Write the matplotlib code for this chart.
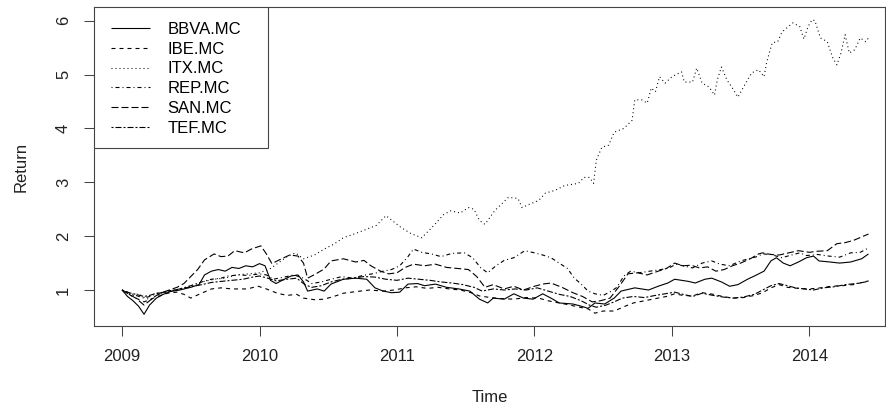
import matplotlib
matplotlib.use("Agg")
import matplotlib.pyplot as plt
from matplotlib.patches import Rectangle

plt.rcParams['font.family'] = ['Liberation Sans', 'DejaVu Sans']
plt.rcParams['lines.scale_dashes'] = False

# ---------------- data ----------------
bbva_t = [2009.00, 2009.04, 2009.08, 2009.12, 2009.16, 2009.20, 2009.25, 2009.30, 2009.35, 2009.42,
          2009.50, 2009.56, 2009.60, 2009.65, 2009.70, 2009.75, 2009.80, 2009.85, 2009.90, 2009.95,
          2010.00, 2010.04, 2010.08, 2010.12, 2010.18, 2010.23, 2010.28, 2010.32, 2010.35, 2010.42,
          2010.47, 2010.52, 2010.61, 2010.70, 2010.78, 2010.84, 2010.90, 2010.96, 2011.02, 2011.08,
          2011.15, 2011.20, 2011.28, 2011.36, 2011.45, 2011.53, 2011.60, 2011.66, 2011.70, 2011.78,
          2011.85, 2011.92, 2011.99, 2012.06, 2012.12, 2012.18, 2012.28, 2012.34, 2012.39, 2012.44,
          2012.51, 2012.58, 2012.63, 2012.73, 2012.83, 2012.90, 2012.97, 2013.02, 2013.07, 2013.12,
          2013.17, 2013.24, 2013.29, 2013.36, 2013.42, 2013.48, 2013.55, 2013.60, 2013.67, 2013.72,
          2013.76, 2013.81, 2013.86, 2013.92, 2013.98, 2014.03, 2014.07, 2014.15, 2014.22, 2014.30,
          2014.38, 2014.43]
bbva_v = [1.00, 0.88, 0.80, 0.70, 0.55, 0.72, 0.85, 0.92, 0.97, 1.00,
          1.05, 1.10, 1.28, 1.35, 1.38, 1.35, 1.42, 1.40, 1.45, 1.43,
          1.49, 1.45, 1.18, 1.12, 1.20, 1.26, 1.28, 1.15, 0.98, 1.02,
          0.98, 1.11, 1.20, 1.22, 1.20, 1.04, 0.98, 0.95, 0.96, 1.11,
          1.12, 1.08, 1.11, 1.05, 1.02, 0.98, 0.83, 0.76, 0.85, 0.83,
          0.93, 0.85, 0.83, 0.93, 0.85, 0.76, 0.74, 0.70, 0.66, 0.76,
          0.74, 0.85, 0.98, 1.04, 1.00, 1.07, 1.13, 1.20, 1.18, 1.16,
          1.13, 1.20, 1.22, 1.15, 1.07, 1.10, 1.20, 1.26, 1.35, 1.54,
          1.60, 1.50, 1.45, 1.52, 1.60, 1.63, 1.54, 1.52, 1.50, 1.52,
          1.58, 1.67]

ibe_t = [2009.00, 2009.05, 2009.10, 2009.16, 2009.20, 2009.26, 2009.33, 2009.40, 2009.45, 2009.50,
         2009.56, 2009.65, 2009.72, 2009.80, 2009.91, 2009.99, 2010.05, 2010.13, 2010.20, 2010.27,
         2010.32, 2010.40, 2010.47, 2010.54, 2010.61, 2010.70, 2010.80, 2010.90, 2010.98, 2011.06,
         2011.14, 2011.22, 2011.30, 2011.38, 2011.46, 2011.54, 2011.60, 2011.68, 2011.76, 2011.85,
         2011.94, 2012.03, 2012.10, 2012.18, 2012.26, 2012.33, 2012.39, 2012.44, 2012.50, 2012.58,
         2012.66, 2012.72, 2012.80, 2012.88, 2012.96, 2013.02, 2013.08, 2013.15, 2013.22, 2013.30,
         2013.37, 2013.44, 2013.52, 2013.60, 2013.66, 2013.72, 2013.78, 2013.84, 2013.92, 2014.00,
         2014.08, 2014.16, 2014.24, 2014.32, 2014.43]
ibe_v = [1.00, 0.92, 0.85, 0.78, 0.82, 0.88, 0.94, 0.96, 0.92, 0.85,
         0.92, 1.02, 1.04, 1.02, 1.02, 1.07, 1.02, 0.94, 0.90, 0.92,
         0.85, 0.82, 0.83, 0.88, 0.94, 0.97, 1.00, 0.98, 1.00, 1.04,
         1.06, 1.03, 1.05, 1.02, 1.00, 0.95, 0.89, 0.86, 0.84, 0.83,
         0.86, 0.85, 0.80, 0.76, 0.72, 0.68, 0.65, 0.57, 0.61, 0.61,
         0.70, 0.76, 0.80, 0.84, 0.88, 0.93, 0.90, 0.89, 0.95, 0.92,
         0.88, 0.85, 0.86, 0.90, 0.95, 1.04, 1.10, 1.05, 1.03, 1.02,
         1.04, 1.07, 1.08, 1.10, 1.17]

itx_t = [2009.00, 2009.04, 2009.08, 2009.12, 2009.17, 2009.21, 2009.25, 2009.33, 2009.42, 2009.50,
         2009.58, 2009.67, 2009.75, 2009.83, 2009.92, 2010.00, 2010.08, 2010.13, 2010.20, 2010.26,
         2010.32, 2010.40, 2010.47, 2010.54, 2010.61, 2010.70, 2010.79, 2010.85, 2010.92, 2010.96,
         2011.03, 2011.10, 2011.18, 2011.25, 2011.34, 2011.39, 2011.46, 2011.52, 2011.56, 2011.60,
         2011.64, 2011.71, 2011.81, 2011.88, 2011.91, 2011.97, 2012.03, 2012.08, 2012.15, 2012.22,
         2012.32, 2012.36, 2012.40, 2012.43, 2012.45, 2012.49, 2012.54, 2012.58, 2012.65, 2012.71,
         2012.73, 2012.78, 2012.82, 2012.85, 2012.88, 2012.91, 2012.95, 2013.00, 2013.07, 2013.09,
         2013.15, 2013.18, 2013.22, 2013.27, 2013.31, 2013.33, 2013.36, 2013.40, 2013.44, 2013.48,
         2013.53, 2013.58, 2013.63, 2013.67, 2013.69, 2013.73, 2013.77, 2013.80, 2013.88, 2013.93,
         2013.96, 2013.99, 2014.02, 2014.04, 2014.08, 2014.13, 2014.17, 2014.20, 2014.23, 2014.26,
         2014.29, 2014.33, 2014.37, 2014.41, 2014.43]
itx_v = [1.00, 0.95, 0.90, 0.93, 0.85, 0.82, 0.90, 0.97, 1.02, 1.08,
         1.15, 1.20, 1.22, 1.28, 1.30, 1.32, 1.40, 1.49, 1.62, 1.69,
         1.58, 1.65, 1.76, 1.85, 1.97, 2.05, 2.14, 2.20, 2.38, 2.30,
         2.16, 2.05, 1.97, 2.15, 2.40, 2.47, 2.43, 2.53, 2.50, 2.29,
         2.22, 2.47, 2.72, 2.70, 2.53, 2.60, 2.66, 2.80, 2.85, 2.94,
         2.98, 3.09, 3.09, 2.98, 3.41, 3.65, 3.69, 3.93, 4.00, 4.15,
         4.53, 4.53, 4.47, 4.75, 4.68, 4.96, 4.84, 4.96, 5.05, 4.86,
         4.86, 5.12, 4.84, 4.77, 4.62, 4.90, 5.14, 4.90, 4.75, 4.58,
         4.81, 5.03, 5.09, 4.96, 5.24, 5.59, 5.61, 5.79, 5.96, 5.89,
         5.66, 5.89, 6.02, 6.00, 5.68, 5.61, 5.31, 5.18, 5.40, 5.74,
         5.40, 5.46, 5.68, 5.61, 5.68]

rep_t = [2009.00, 2009.05, 2009.10, 2009.16, 2009.20, 2009.25, 2009.33, 2009.42, 2009.50, 2009.58,
         2009.65, 2009.72, 2009.77, 2009.85, 2009.92, 2010.00, 2010.05, 2010.10, 2010.18, 2010.25,
         2010.32, 2010.38, 2010.45, 2010.52, 2010.60, 2010.68, 2010.75, 2010.82, 2010.90, 2010.96,
         2011.02, 2011.08, 2011.12, 2011.18, 2011.25, 2011.32, 2011.40, 2011.49, 2011.55, 2011.61,
         2011.66, 2011.72, 2011.78, 2011.85, 2011.93, 2012.00, 2012.06, 2012.12, 2012.18, 2012.24,
         2012.29, 2012.34, 2012.39, 2012.44, 2012.50, 2012.56, 2012.60, 2012.65, 2012.70, 2012.76,
         2012.84, 2012.92, 2012.98, 2013.03, 2013.08, 2013.15, 2013.22, 2013.29, 2013.35, 2013.42,
         2013.50, 2013.56, 2013.62, 2013.66, 2013.72, 2013.80, 2013.87, 2013.93, 2013.98, 2014.06,
         2014.14, 2014.22, 2014.30, 2014.37, 2014.43]
rep_v = [1.00, 0.95, 0.90, 0.85, 0.88, 0.93, 0.98, 1.02, 1.08, 1.15,
         1.20, 1.22, 1.26, 1.28, 1.27, 1.30, 1.28, 1.20, 1.24, 1.28,
         1.22, 1.12, 1.15, 1.20, 1.25, 1.22, 1.27, 1.30, 1.35, 1.38,
         1.45, 1.62, 1.76, 1.70, 1.67, 1.62, 1.68, 1.69, 1.60, 1.41,
         1.32, 1.45, 1.55, 1.60, 1.73, 1.69, 1.65, 1.60, 1.50, 1.40,
         1.22, 1.11, 0.98, 0.93, 0.90, 0.98, 1.05, 1.26, 1.35, 1.32,
         1.35, 1.38, 1.41, 1.48, 1.45, 1.41, 1.50, 1.54, 1.48, 1.45,
         1.54, 1.58, 1.62, 1.67, 1.66, 1.60, 1.65, 1.69, 1.64, 1.66,
         1.63, 1.61, 1.69, 1.70, 1.78]

san_t = [2009.00, 2009.05, 2009.10, 2009.16, 2009.20, 2009.25, 2009.32, 2009.40, 2009.45, 2009.50,
         2009.55, 2009.60, 2009.67, 2009.72, 2009.77, 2009.82, 2009.89, 2009.94, 2010.01, 2010.05,
         2010.09, 2010.16, 2010.22, 2010.28, 2010.32, 2010.35, 2010.41, 2010.47, 2010.52, 2010.61,
         2010.70, 2010.76, 2010.81, 2010.88, 2010.94, 2011.00, 2011.06, 2011.12, 2011.20, 2011.28,
         2011.36, 2011.44, 2011.52, 2011.58, 2011.64, 2011.70, 2011.78, 2011.85, 2011.92, 2012.00,
         2012.06, 2012.12, 2012.20, 2012.28, 2012.35, 2012.42, 2012.48, 2012.55, 2012.62, 2012.68,
         2012.75, 2012.82, 2012.90, 2012.96, 2013.02, 2013.08, 2013.14, 2013.20, 2013.26, 2013.32,
         2013.38, 2013.44, 2013.50, 2013.57, 2013.63, 2013.66, 2013.72, 2013.78, 2013.85, 2013.92,
         2014.00, 2014.06, 2014.13, 2014.20, 2014.26, 2014.32, 2014.43]
san_v = [1.00, 0.92, 0.85, 0.72, 0.80, 0.90, 0.98, 1.05, 1.12, 1.25,
         1.38, 1.56, 1.67, 1.62, 1.63, 1.73, 1.69, 1.76, 1.82, 1.67,
         1.49, 1.58, 1.65, 1.63, 1.50, 1.22, 1.30, 1.39, 1.54, 1.58,
         1.52, 1.55, 1.45, 1.35, 1.30, 1.32, 1.42, 1.48, 1.45, 1.48,
         1.42, 1.40, 1.38, 1.25, 1.05, 1.10, 1.02, 1.07, 1.00, 1.07,
         1.11, 1.13, 1.05, 0.95, 0.88, 0.78, 0.80, 0.85, 1.08, 1.30,
         1.32, 1.28, 1.35, 1.40, 1.50, 1.45, 1.46, 1.41, 1.43, 1.35,
         1.38, 1.45, 1.50, 1.58, 1.67, 1.69, 1.66, 1.65, 1.69, 1.73,
         1.70, 1.72, 1.73, 1.86, 1.88, 1.92, 2.04]

tef_t = [2009.00, 2009.05, 2009.10, 2009.16, 2009.20, 2009.25, 2009.33, 2009.42, 2009.50, 2009.58,
         2009.65, 2009.72, 2009.80, 2009.88, 2009.95, 2010.00, 2010.06, 2010.12, 2010.20, 2010.27,
         2010.33, 2010.38, 2010.45, 2010.52, 2010.60, 2010.68, 2010.76, 2010.84, 2010.92, 2011.00,
         2011.08, 2011.16, 2011.24, 2011.32, 2011.40, 2011.48, 2011.56, 2011.62, 2011.70, 2011.78,
         2011.86, 2011.94, 2012.02, 2012.10, 2012.18, 2012.26, 2012.34, 2012.40, 2012.45, 2012.52,
         2012.58, 2012.64, 2012.72, 2012.80, 2012.88, 2012.95, 2013.02, 2013.08, 2013.15, 2013.22,
         2013.30, 2013.37, 2013.45, 2013.52, 2013.60, 2013.66, 2013.72, 2013.78, 2013.84, 2013.90,
         2013.96, 2014.03, 2014.10, 2014.18, 2014.26, 2014.34, 2014.43]
tef_v = [1.00, 0.95, 0.92, 0.88, 0.90, 0.94, 0.97, 1.02, 1.06, 1.10,
         1.14, 1.16, 1.18, 1.20, 1.24, 1.26, 1.22, 1.17, 1.20, 1.22,
         1.10, 1.05, 1.08, 1.15, 1.20, 1.22, 1.25, 1.24, 1.20, 1.18,
         1.22, 1.20, 1.18, 1.15, 1.13, 1.10, 1.05, 0.98, 1.02, 1.00,
         1.02, 1.00, 1.04, 0.98, 0.92, 0.88, 0.80, 0.72, 0.68, 0.72,
         0.78, 0.85, 0.88, 0.86, 0.90, 0.93, 0.96, 0.92, 0.88, 0.94,
         0.90, 0.87, 0.85, 0.87, 0.92, 1.00, 1.08, 1.12, 1.08, 1.04,
         1.02, 1.00, 1.04, 1.06, 1.10, 1.12, 1.16]

labels = ["BBVA.MC", "IBE.MC", "ITX.MC", "REP.MC", "SAN.MC", "TEF.MC"]
year_ticks = [2009, 2010, 2011, 2012, 2013, 2014]
y_ticks = [1, 2, 3, 4, 5, 6]

# ---------------- styles (R lty equivalents, in points) ----------------
px = 0.72
styles = [
    (0, ()),                                   # solid
    (0, (4 * px, 4 * px)),                     # dashed
    (0, (1 * px, 3 * px)),                     # dotted
    (0, (1 * px, 3 * px, 4 * px, 3 * px)),     # dotdash
    (0, (7 * px, 3 * px)),                     # longdash
    (0, (2 * px, 2 * px, 6 * px, 2 * px)),     # twodash
]

series = [(bbva_t, bbva_v), (ibe_t, ibe_v), (itx_t, itx_v),
          (rep_t, rep_v), (san_t, san_v), (tef_t, tef_v)]

W, H = 887, 418
fig = plt.figure(figsize=(W / 100, H / 100), dpi=100)
ax_l, ax_r, ax_t, ax_b = 94, 885, 7, 326
ax = fig.add_axes([ax_l / W, 1 - ax_b / H, (ax_r - ax_l) / W, (ax_b - ax_t) / H])

for (t, v), lab, ls in zip(series, labels, styles):
    ax.plot(t, v, color="black", lw=0.8, linestyle=ls, label=lab)

ax.set_xlim(2008.796, 2014.55)
ax.set_ylim(0.332, 6.254)
ax.set_xticks(year_ticks)
ax.set_xticklabels([str(y) for y in year_ticks])
ax.set_yticks(y_ticks)
ax.set_yticklabels([str(y) for y in y_ticks], rotation=90, va="center")

ax.tick_params(axis="both", direction="out", length=7.5, width=0.75,
               color="#444444", labelsize=12, labelcolor="#222222")
ax.tick_params(axis="x", pad=9)
ax.tick_params(axis="y", pad=9)
for sp in ax.spines.values():
    sp.set_linewidth(0.8)
    sp.set_color("#444444")

ax.set_xlabel("Time", fontsize=12, color="#222222")
ax.set_ylabel("Return", fontsize=12, color="#222222")
ax.xaxis.set_label_coords(0.5, -0.2)
ax.yaxis.set_label_coords(-0.083, 0.5)

# legend box (R style): frame drawn as a rectangle, entries via matplotlib legend
def to_axes(xp, yp):
    return (xp - ax_l) / (ax_r - ax_l), (ax_b - yp) / (ax_b - ax_t)

bx0, by0 = to_axes(94, 148)
bx1, by1 = to_axes(268, 7)
ax.add_patch(Rectangle((bx0, by0), bx1 - bx0, by1 - by0, transform=ax.transAxes,
                       facecolor="white", edgecolor="#444444", lw=0.8, zorder=4))

lx, ly = to_axes(106, 17)
leg = ax.legend(loc="upper left", bbox_to_anchor=(lx, ly), borderaxespad=0,
                fontsize=12, frameon=False, handlelength=2.35,
                handletextpad=1.05, labelspacing=0.285, borderpad=0.3)
leg.set_zorder(5)
for line in leg.get_lines():
    line.set_linewidth(0.8)

fig.savefig("out.png", dpi=100)
